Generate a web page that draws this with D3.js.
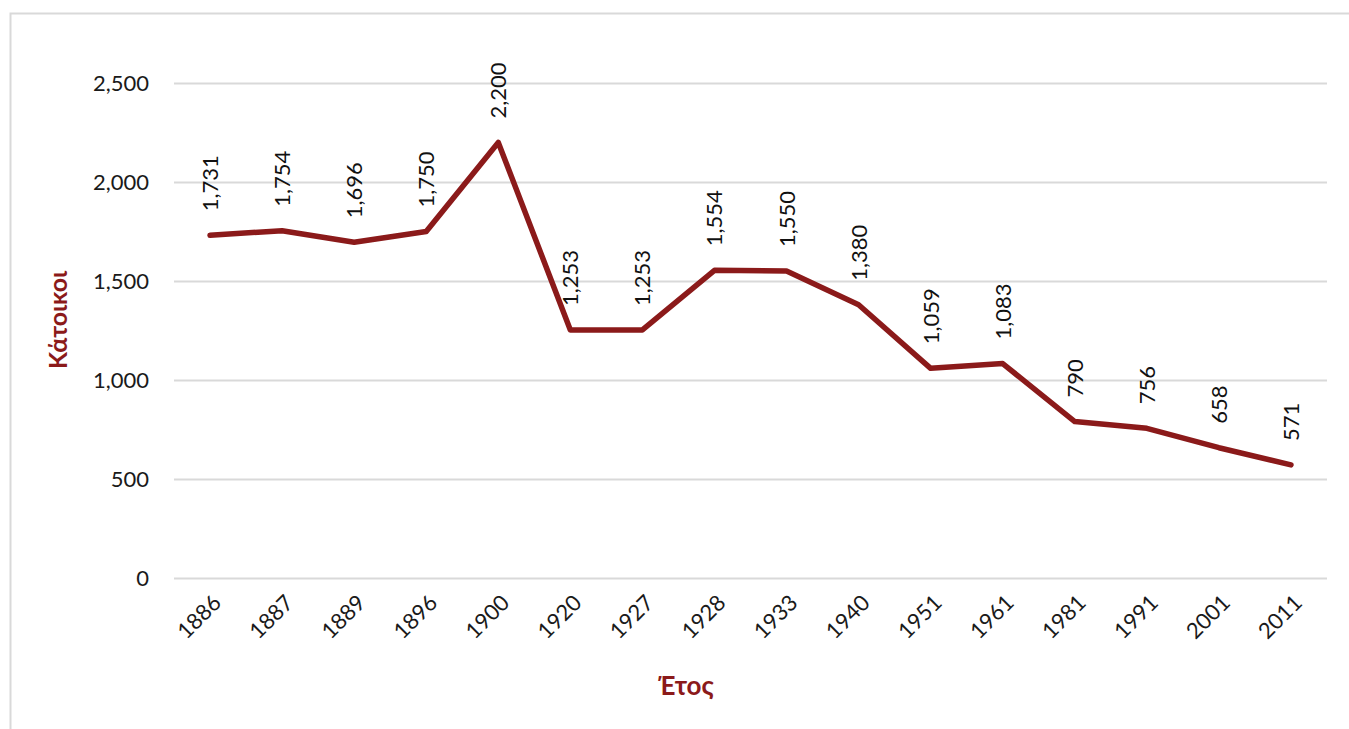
<!DOCTYPE html>
<html>
<head>
<meta charset="utf-8">
<script src="https://d3js.org/d3.v7.min.js"></script>
<style>
  body { margin: 0; background: #fff; }
  text { font-family: Lato, "Noto Sans", sans-serif; }
</style>
</head>
<body>
<svg width="1349" height="729"></svg>
<script>
    // data
    const years = ["1886", "1887", "1889", "1896", "1900", "1920", "1927", "1928",
        "1933", "1940", "1951", "1961", "1981", "1991", "2001", "2011"];
    const residents = [1731, 1754, 1696, 1750, 2200, 1253, 1253, 1554,
        1550, 1380, 1059, 1083, 790, 756, 658, 571];
    const yTicks = [0, 500, 1000, 1500, 2000, 2500];

    const red = "#8b1a1a";
    const plot = {left: 174, right: 1327, top: 83, bottom: 578};

    const svg = d3.select("svg");

    // outer frame (only left and top edges visible)
    svg.append("rect")
        .attr("x", 10.5).attr("y", 13.5)
        .attr("width", 1400).attr("height", 800)
        .attr("fill", "none")
        .attr("stroke", "#d9d9d9")
        .attr("stroke-width", 2);

    const x = d3.scalePoint()
        .domain(years)
        .range([plot.left, plot.right])
        .padding(0.5);

    const y = d3.scaleLinear()
        .domain([0, 2500])
        .range([plot.bottom, plot.top]);

    const fmt = d3.format(",");

    // grid + y labels
    const yAxis = svg.append("g")
        .attr("transform", "translate(" + plot.left + ",0)")
        .call(d3.axisLeft(y).tickValues(yTicks).tickFormat(fmt)
            .tickSize(-(plot.right - plot.left)).tickPadding(25));
    yAxis.select(".domain").remove();
    yAxis.selectAll(".tick line").attr("stroke", "#d9d9d9").attr("stroke-width", 2);
    yAxis.selectAll(".tick text").attr("fill", "#1a1a1a").style("font-size", "22px");

    // x labels
    const xAxis = svg.append("g")
        .attr("transform", "translate(0," + plot.bottom + ")")
        .call(d3.axisBottom(x).tickSize(0));
    xAxis.select(".domain").remove();
    xAxis.selectAll(".tick text")
        .attr("fill", "#1a1a1a")
        .style("font-size", "22px")
        .attr("text-anchor", "end")
        .attr("dy", null)
        .attr("transform", "translate(10,24) rotate(-45)");

    // line
    const line = d3.line()
        .x((d, i) => x(years[i]))
        .y(d => y(d));

    svg.append("path")
        .datum(residents)
        .attr("fill", "none")
        .attr("stroke", red)
        .attr("stroke-width", 5.5)
        .attr("stroke-linejoin", "round")
        .attr("stroke-linecap", "round")
        .attr("d", line);

    // value labels, rotated
    svg.append("g")
        .selectAll("text")
        .data(residents)
        .join("text")
        .attr("transform", (d, i) => "translate(" + (x(years[i]) + 8) + "," + (y(d) - 24) + ") rotate(-90)")
        .attr("text-anchor", "start")
        .attr("fill", "#111")
        .style("font-size", "22px")
        .text(d => fmt(d));

    // axis titles
    svg.append("text")
        .attr("transform", "translate(67,320) rotate(-90)")
        .attr("text-anchor", "middle")
        .attr("fill", red)
        .style("font-size", "25px")
        .style("font-weight", "bold")
        .text("Κάτοικοι");

    svg.append("text")
        .attr("x", 686)
        .attr("y", 695)
        .attr("text-anchor", "middle")
        .attr("fill", red)
        .style("font-size", "26px")
        .style("font-weight", "bold")
        .text("Έτος");
</script>
</body>
</html>
